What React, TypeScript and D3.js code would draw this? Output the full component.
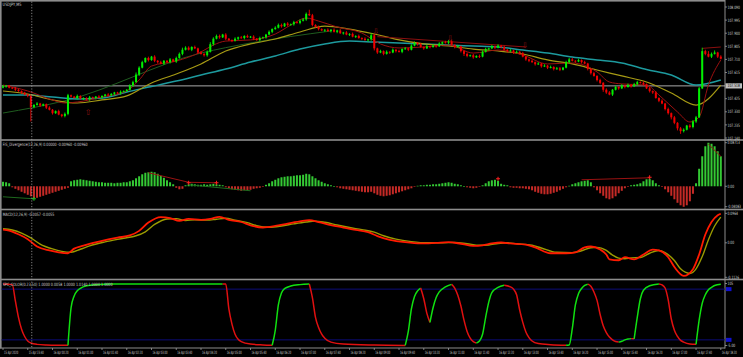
import React from "react";
import * as d3 from "d3";

// ---------- DATA ----------
const OPEN0 = 107.505;
const CLOSES = [
  107.515, 107.52, 107.505, 107.5, 107.49, 107.48, 107.47, 107.455, 107.445, 107.365,
  107.38, 107.39, 107.375, 107.385, 107.36, 107.345, 107.32, 107.335, 107.31, 107.3,
  107.315, 107.45, 107.44, 107.43, 107.445, 107.425, 107.43, 107.42, 107.435, 107.43,
  107.44, 107.435, 107.445, 107.455, 107.45, 107.46, 107.47, 107.465, 107.475, 107.48,
  107.49, 107.52, 107.545, 107.6, 107.65, 107.69, 107.72, 107.705, 107.73, 107.7,
  107.69, 107.68, 107.7, 107.69, 107.71, 107.695, 107.72, 107.75, 107.78, 107.795,
  107.78, 107.8, 107.79, 107.76, 107.75, 107.74, 107.765, 107.82, 107.86, 107.88,
  107.87, 107.89, 107.86, 107.85, 107.845, 107.86, 107.87, 107.865, 107.88, 107.87,
  107.875, 107.86, 107.85, 107.865, 107.87, 107.89, 107.91, 107.93, 107.94, 107.96,
  107.95, 107.97, 107.96, 107.965, 107.98, 107.975, 107.99, 108.0, 108.04, 108.03,
  107.96, 107.945, 107.93, 107.92, 107.925, 107.915, 107.925, 107.91, 107.92, 107.9,
  107.905, 107.89, 107.895, 107.875, 107.88, 107.865, 107.86, 107.85, 107.855, 107.885,
  107.79, 107.76, 107.77, 107.75, 107.765, 107.76, 107.78, 107.77, 107.765, 107.785,
  107.79, 107.78, 107.81, 107.83, 107.82, 107.8, 107.79, 107.805, 107.8, 107.81,
  107.805, 107.825, 107.835, 107.83, 107.84, 107.815, 107.8, 107.805, 107.77, 107.75,
  107.735, 107.74, 107.725, 107.735, 107.73, 107.765, 107.785, 107.79, 107.805, 107.795,
  107.81, 107.8, 107.78, 107.77, 107.775, 107.76, 107.765, 107.755, 107.73, 107.71,
  107.7, 107.69, 107.675, 107.68, 107.66, 107.665, 107.65, 107.655, 107.64, 107.645,
  107.635, 107.65, 107.69, 107.71, 107.7, 107.695, 107.705, 107.69, 107.68, 107.64,
  107.61, 107.59, 107.56, 107.54, 107.49, 107.47, 107.455, 107.49, 107.51, 107.5,
  107.52, 107.51, 107.525, 107.515, 107.53, 107.545, 107.54, 107.53, 107.5, 107.48,
  107.47, 107.43, 107.41, 107.39, 107.35, 107.32, 107.29, 107.25, 107.21, 107.19,
  107.2, 107.23, 107.22, 107.26, 107.29, 107.5, 107.77, 107.75, 107.73, 107.75,
  107.76, 107.73, 107.715,
];
// wick lengths, one base-36 digit per bar, unit 0.005
const WICK_UP =
  "2111211112" + "1211121121" + "2211211121" + "1211211121" + "1223221212" +
  "1211212232" + "2121212322" + "2121121212" + "1212112122" + "2121212226" +
  "2121121212" + "1212121213" + "2121212121" + "2122121212" + "1212221211" +
  "2121222121" + "2121212121" + "1212121212" + "2122212121" + "1212122121" +
  "2121221212" + "1212121212" + "2122225242" + "312";
const WICK_DN =
  "121121212l" + "2121212112" + "2211212121" + "2121212121" + "1121211212" +
  "2121212121" + "1212122121" + "2121212121" + "1212121211" + "2121212121" +
  "2121212121" + "2121212122" + "3212121212" + "1211212121" + "2121212123" +
  "2121211212" + "1212121212" + "2121212121" + "2112121212" + "2122321212" +
  "1212121212" + "2121223234" + "2122211212" + "121";

// moving averages on the price chart: [bar, price]
const TEAL_MA: [number, number][] = [
  [0, 107.452], [8, 107.452], [16, 107.437], [24, 107.423], [32, 107.43], [40, 107.474],
  [48, 107.513], [56, 107.553], [64, 107.597], [72, 107.64], [80, 107.691], [88, 107.735],
  [96, 107.785], [104, 107.822], [112, 107.843], [120, 107.836], [128, 107.829], [136, 107.822],
  [144, 107.814], [152, 107.807], [160, 107.8], [168, 107.778], [176, 107.756], [184, 107.727],
  [192, 107.706], [200, 107.684], [208, 107.637], [216, 107.597], [224, 107.524], [232, 107.561],
];
const OLIVE_MA: [number, number][] = [
  [0, 107.481], [8, 107.459], [16, 107.416], [24, 107.394], [32, 107.416], [40, 107.445],
  [48, 107.539], [56, 107.604], [64, 107.677], [72, 107.771], [80, 107.822], [88, 107.858],
  [96, 107.909], [104, 107.952], [112, 107.93], [120, 107.894], [128, 107.851], [136, 107.822],
  [144, 107.807], [152, 107.785], [160, 107.771], [168, 107.749], [176, 107.706], [184, 107.677],
  [192, 107.633], [200, 107.59], [208, 107.546], [216, 107.466], [224, 107.379], [232, 107.524],
];
const RED_MA: [number, number][] = [
  [0, 107.524], [8, 107.481], [16, 107.416], [20, 107.394], [24, 107.401], [32, 107.437],
  [40, 107.481], [44, 107.561], [48, 107.662], [56, 107.698], [64, 107.764], [68, 107.814],
  [72, 107.843], [80, 107.851], [88, 107.894], [93, 107.959], [98, 108.01], [102, 107.988],
  [108, 107.945], [116, 107.901], [122, 107.822], [128, 107.793], [136, 107.8], [144, 107.814],
  [152, 107.756], [160, 107.778], [168, 107.742], [176, 107.677], [184, 107.684], [192, 107.619],
  [196, 107.546], [200, 107.532], [208, 107.524], [212, 107.452], [218, 107.329], [222, 107.256],
  [225, 107.292], [228, 107.524], [232, 107.706],
];
const GREEN_MA: [number, number][] = [
  [0, 107.321], [20, 107.41], [64, 107.756], [80, 107.829], [106, 107.916],
];
const PRICE_TREND: [number, number][][] = [
  [[121, 107.875], [169, 107.8]],
  [[226, 107.79], [232, 107.8]],
];
const ARROWS: { bar: number; price: number; up: boolean }[] = [
  { bar: 27.5, price: 107.33, up: true },
  { bar: 120.5, price: 107.915, up: false },
  { bar: 144.5, price: 107.862, up: false },
  { bar: 168.7, price: 107.816, up: false },
];
const PRICE_TICKS = [108.09, 107.995, 107.9, 107.805, 107.71, 107.615, 107.425, 107.33, 107.235, 107.14];
const PRICE_LINE = 107.518;

// FIS_Divergence histogram, one value per bar
const FIS = [
  0.009, 0.008, 0.006,
  -0.002, -0.005, -0.008, -0.011, -0.014, -0.017, -0.02,
  -0.024, -0.023,
  -0.021, -0.019, -0.017, -0.015, -0.013, -0.011, -0.009, -0.007, -0.005, -0.003,
  0.01, 0.012, 0.013, 0.014, 0.013, 0.012, 0.011, 0.01,
  0.009, 0.008, 0.008, 0.007, 0.007, 0.007, 0.006, 0.007, 0.007, 0.008, 0.008, 0.01,
  0.012, 0.016, 0.02, 0.024, 0.027, 0.028,
  0.029, 0.028,
  0.025, 0.021, 0.017, 0.012, 0.008, 0.004,
  -0.003, -0.006, -0.005,
  0.002, 0.004, 0.005, 0.004,
  0.003, 0.003, 0.004, 0.003, 0.004, 0.005, 0.004, 0.003, 0.002,
  -0.002, -0.004, -0.006, -0.007, -0.008, -0.009, -0.008, -0.008, -0.007,
  -0.005, -0.004, -0.003, -0.001,
  0.003, 0.006, 0.01, 0.013, 0.016, 0.018,
  0.019, 0.02, 0.02, 0.021, 0.022, 0.022, 0.023, 0.025, 0.024, 0.02,
  0.016, 0.012, 0.009, 0.006, 0.004, 0.002, 0.0, -0.002, -0.004, -0.005,
  -0.006, -0.007, -0.008, -0.009, -0.01, -0.011, -0.012, -0.012, -0.011, -0.014,
  -0.017, -0.019, -0.02, -0.019, -0.018, -0.016, -0.014, -0.012, -0.01, -0.008,
  -0.006, -0.004, -0.001, 0.001, 0.002, 0.002, 0.003, 0.003, 0.004, 0.004,
  0.005, 0.006, 0.007, 0.008, 0.007, 0.005, 0.004, 0.002, 0.0, -0.002,
  -0.003, -0.004, -0.003, -0.001, 0.002, 0.006, 0.01,
  0.012, 0.013, 0.011,
  0.005, 0.003, 0.002,
  -0.002, -0.003, -0.003, -0.004, -0.004, -0.005, -0.006,
  -0.008, -0.011, -0.013, -0.015, -0.016, -0.016,
  -0.015, -0.013, -0.011, -0.008, -0.005, -0.002,
  0.001, 0.004, 0.006, 0.008, 0.01, 0.011, 0.012, 0.008,
  -0.002, -0.008, -0.014, -0.019, -0.024, -0.026, -0.024, -0.02,
  -0.014, -0.009, -0.004, -0.001, 0.002,
  0.003, 0.004, 0.006,
  0.01, 0.014, 0.015, 0.012, 0.006,
  0.002, -0.001,
  -0.006, -0.012, -0.019, -0.026, -0.033, -0.038, -0.041, -0.038,
  -0.03, -0.015,
  0.006,
  0.035, 0.06, 0.08, 0.087, 0.085, 0.08, 0.07, 0.06,
];
const FIS_RED_LINES: [number, number][][] = [
  [[47, 0.027], [60, 0.008]],
  [[60, 0.008], [69, 0.007]],
  [[187, 0.013], [209, 0.017]],
  [[228, 0.084], [232, 0.06]],
];
const FIS_GREEN_LINES: [number, number][][] = [
  [[0, -0.021], [10, -0.025]],
  [[60, 0.003], [80, -0.009]],
];
const FIS_RED_MARKS: [number, number][] = [[60, 0.007], [69, 0.007], [160, 0.015], [209, 0.018]];
const FIS_GREEN_MARKS: [number, number][] = [[10, -0.025]];
const FIS_TICKS = [{ v: 0.08713, t: "0.08713" }, { v: 0, t: "0.00" }, { v: -0.04083, t: "-0.04083" }];

// MACD main and signal: [bar, value]
const MACD_MAIN: [number, number][] = [
  [0, 0.043], [2, 0.04], [5, 0.028], [8, 0.012], [11, -0.012], [15, -0.025], [18, -0.031],
  [21, -0.034], [23, -0.019], [26, -0.009], [31, 0.004], [37, 0.017], [41, 0.024], [44, 0.039],
  [47, 0.066], [51, 0.084], [54, 0.081], [57, 0.072], [60, 0.078], [64, 0.075], [67, 0.078],
  [70, 0.085], [73, 0.075], [77, 0.068], [80, 0.057], [84, 0.05], [88, 0.055], [92, 0.063],
  [96, 0.07], [99, 0.074], [102, 0.068], [106, 0.058], [110, 0.05], [114, 0.042], [118, 0.035],
  [121, 0.022], [125, 0.01], [130, 0.002], [135, -0.002], [140, 0.0], [144, 0.002], [148, -0.003],
  [152, -0.01], [155, -0.008], [158, -0.002], [161, 0.001], [164, -0.002], [169, -0.006],
  [172, -0.015], [177, -0.034], [182, -0.034], [185, -0.031], [188, -0.015], [190, -0.012],
  [193, -0.022], [195, -0.038], [196, -0.054], [199, -0.057], [201, -0.047], [204, -0.054],
  [207, -0.038], [210, -0.022], [212, -0.025], [215, -0.047], [217, -0.079], [220, -0.108],
  [223, -0.086], [225, -0.038], [227, 0.027], [229, 0.068], [231, 0.09], [232, 0.095],
];
const MACD_SIGNAL: [number, number][] = [
  [0, 0.046], [3, 0.042], [6, 0.032], [9, 0.016], [12, -0.004], [16, -0.02], [19, -0.028],
  [22, -0.031], [25, -0.021], [28, -0.01], [33, 0.003], [39, 0.015], [43, 0.023], [46, 0.036],
  [49, 0.06], [53, 0.078], [56, 0.079], [59, 0.073], [62, 0.075], [66, 0.074], [69, 0.077],
  [72, 0.08], [75, 0.074], [79, 0.066], [82, 0.056], [86, 0.051], [90, 0.055], [94, 0.062],
  [98, 0.068], [101, 0.071], [104, 0.067], [108, 0.058], [112, 0.05], [116, 0.043], [120, 0.035],
  [123, 0.023], [127, 0.012], [132, 0.004], [137, 0.0], [142, 0.0], [146, 0.001], [150, -0.003],
  [154, -0.008], [157, -0.007], [160, -0.002], [163, 0.0], [166, -0.003], [171, -0.008],
  [174, -0.017], [179, -0.031], [184, -0.032], [187, -0.026], [190, -0.016], [192, -0.015],
  [195, -0.025], [197, -0.04], [199, -0.05], [201, -0.052], [203, -0.049], [206, -0.048],
  [209, -0.034], [212, -0.025], [214, -0.032], [217, -0.058], [219, -0.085], [222, -0.1],
  [224, -0.085], [226, -0.045], [228, 0.01], [230, 0.055], [232, 0.084],
];
const MACD_TICKS = [{ v: 0.0964, t: "0.0964" }, { v: 0, t: "0.00" }, { v: -0.1126, t: "-0.1126" }];

// SPC_COLOR oscillator: [bar, value]
const SPC: [number, number][] = [
  [0, 104], [3, 103], [4, 74], [5, 45], [6, 24], [7, 11], [8, 3], [9, -0.5], [11, -3], [14, -4], [20, -4.6],
  [21, -4.7], [22, 62], [23, 83], [24, 92], [25, 96.5], [27, 101], [30, 103], [35, 104], [71, 104.2],
  [72, 104], [73, 60], [74, 33], [75, 15], [76, 6], [77, 2], [80, -2.5], [84, -4], [87, -4.6],
  [88, 22], [89, 67], [90, 88], [91, 96], [93, 100.5], [96, 103], [99, 104.1],
  [100, 80], [101, 45], [102, 27], [103, 15], [104, 8], [106, 1], [110, -2.5], [120, -4.2], [130, -4.8],
  [131, 20], [132, 60], [133, 82], [134, 92], [135, 97],
  [136, 78], [137, 52], [138, 36],
  [139, 62], [140, 80], [141, 90], [143, 99], [145, 103.5],
  [146, 97], [147, 84], [148, 65], [149, 40], [150, 20], [151, 8], [152, 2], [153, -0.5],
  [154, 3], [155, 15], [156, 45], [157, 72], [158, 89], [160, 98], [162, 102],
  [164, 99], [165, 95], [166, 85], [167, 58], [168, 36], [169, 19], [170, 9], [171, 3], [173, -1.5], [177, -3.5], [182, -4.5],
  [183, -4], [184, 25], [185, 67], [186, 87], [187, 96], [188, 101.5], [189, 103.8],
  [190, 100], [191, 90], [192, 75], [193, 50], [194, 30], [195, 18], [196, 10], [197, 5], [198, 2], [199, 1],
  [200, 2.5], [201, 5], [202, 6.5], [203, 7.2],
  [204, 6.8],
  [205, 45], [206, 78], [207, 93], [209, 101], [212, 104],
  [213, 102.5], [214, 97], [215, 76], [216, 42], [217, 22], [218, 11], [219, 4], [220, 1], [222, -2.3], [224, -3],
  [225, 40], [226, 70], [227, 85], [228, 94], [229, 98], [230, 101.5], [232, 103.8],
];
const SPC_LEVELS = [95, 5];
const SPC_TICKS = [{ v: 105, t: "105" }, { v: -5, t: "-5.00" }];

// time axis labels every 8 bars (40 minutes)
const TIME_LABELS = [
  "15 Apr 2020", "15 Apr 23:40", "16 Apr 00:20", "16 Apr 01:00", "16 Apr 01:40", "16 Apr 02:20",
  "16 Apr 03:00", "16 Apr 03:40", "16 Apr 04:20", "16 Apr 05:00", "16 Apr 05:40", "16 Apr 06:20",
  "16 Apr 07:00", "16 Apr 07:40", "16 Apr 08:20", "16 Apr 09:00", "16 Apr 09:40", "16 Apr 10:20",
  "16 Apr 11:00", "16 Apr 11:40", "16 Apr 12:20", "16 Apr 13:00", "16 Apr 13:40", "16 Apr 14:20",
  "16 Apr 15:00", "16 Apr 15:40", "16 Apr 16:20", "16 Apr 17:00", "16 Apr 17:40", "16 Apr 18:20",
];
const SEPARATOR_BAR = 9.3;

// ---------- CHART ----------
const W = 743;
const H = 357;
const AXIS_X = 725;
const FG = "#cfcfcf";
const FONT = "DejaVu Sans, sans-serif";
const FS = 4.5;

// approximate DejaVu Sans advance widths (em)
const CW: Record<string, number> = {
  "0": 0.636, "1": 0.636, "2": 0.636, "3": 0.636, "4": 0.636, "5": 0.636, "6": 0.636, "7": 0.636,
  "8": 0.636, "9": 0.636, ".": 0.318, ",": 0.318, " ": 0.318, ":": 0.337, "-": 0.361, "(": 0.39,
  ")": 0.39, "_": 0.5, A: 0.684, p: 0.635, r: 0.411, U: 0.732, S: 0.635, D: 0.77, J: 0.295, P: 0.603,
  Y: 0.611, M: 0.863, F: 0.575, I: 0.295, i: 0.278, v: 0.592, e: 0.615, g: 0.635, n: 0.634, c: 0.55,
  C: 0.698, O: 0.787, L: 0.557, R: 0.695,
};
const natWidth = (t: string) => t.split("").reduce((s, ch) => s + (CW[ch] ?? 0.6), 0) * FS;

function Txt(props: { x: number; y: number; t: string; w?: number; sx?: number; fill?: string; size?: number }) {
  const { x, y, t, w, fill = FG } = props;
  const s = w !== undefined ? w / natWidth(t) : props.sx ?? 1;
  return (
    <text transform={`translate(${x},${y}) scale(${s},1)`} fontSize={FS} fill={fill}>
      {t}
    </text>
  );
}

export default function App() {
  const x = d3.scaleLinear().domain([0, 232]).range([3, 720.8]);
  const yP = d3.scaleLinear().domain([107.14, 108.09]).range([138, 7]);
  const yF = d3.scaleLinear().domain([-0.04083, 0.08713]).range([206.7, 142.7]);
  const yM = d3.scaleLinear().domain([-0.1126, 0.0964]).range([277.3, 213.3]);
  const yS = d3.scaleLinear().domain([-5, 105]).range([345.5, 283.5]);

  const wick = (s: string, i: number) => (parseInt(s[i] ?? "1", 36) || 0) * 0.005;
  const candles = CLOSES.map((c, i) => {
    const o = i === 0 ? OPEN0 : CLOSES[i - 1];
    const h = Math.max(o, c) + wick(WICK_UP, i);
    const l = Math.min(o, c) - wick(WICK_DN, i);
    return { i, o, h, l, c };
  });

  const lineP = (pts: [number, number][], curve: d3.CurveFactory = d3.curveMonotoneX) =>
    d3.line<[number, number]>().x((d) => x(d[0])).y((d) => yP(d[1])).curve(curve)(pts) || "";
  const lineM = (pts: [number, number][]) =>
    d3.line<[number, number]>().x((d) => x(d[0])).y((d) => yM(d[1])).curve(d3.curveMonotoneX)(pts) || "";
  const lineF = (pts: [number, number][]) =>
    d3.line<[number, number]>().x((d) => x(d[0])).y((d) => yF(d[1]))(pts) || "";

  // split SPC into runs by direction (rising = green, falling = red)
  const runs: { up: boolean; pts: [number, number][] }[] = [];
  let prevUp: boolean | null = null;
  for (let k = 1; k < SPC.length; k++) {
    const dv = SPC[k][1] - SPC[k - 1][1];
    const up = dv > 0 ? true : dv < 0 ? false : prevUp ?? false;
    if (!runs.length || runs[runs.length - 1].up !== up) runs.push({ up, pts: [SPC[k - 1]] });
    runs[runs.length - 1].pts.push(SPC[k]);
    prevUp = up;
  }
  const lineS = d3.line<[number, number]>().x((d) => x(d[0])).y((d) => yS(d[1])).curve(d3.curveMonotoneX);

  const f0 = yF(0);
  const sepX = x(SEPARATOR_BAR);
  const AX_SX = 12.4 / natWidth("108.090");

  const axisLabel = (y: number, t: string, key: string) => (
    <g key={key}>
      <line x1={AXIS_X} x2={AXIS_X + 2} y1={y} y2={y} stroke="#9a9a9a" strokeWidth={0.8} />
      <Txt x={727.5} y={y + 1.6} t={t} sx={AX_SX} />
    </g>
  );

  const cross = (cx: number, cy: number, color: string, key: string) => (
    <g key={key} stroke={color} strokeWidth={1}>
      <line x1={cx - 2} x2={cx + 2} y1={cy} y2={cy} />
      <line x1={cx} x2={cx} y1={cy - 2} y2={cy + 2} />
    </g>
  );

  const TIME_SX = 15 / natWidth("16 Apr 05:40");

  return (
    <svg
      width={W}
      height={H}
      viewBox={`0 0 ${W} ${H}`}
      style={{ position: "absolute", left: 0, top: 0, background: "#000", fontFamily: FONT }}
    >
      <rect x={0} y={0} width={W} height={H} fill="#000" />
      <defs>
        <clipPath id="cMain"><rect x={1.7} y={1.7} width={AXIS_X - 1.7} height={137.5} /></clipPath>
        <clipPath id="cFis"><rect x={1.7} y={140.8} width={AXIS_X - 1.7} height={67.8} /></clipPath>
        <clipPath id="cMacd"><rect x={1.7} y={210.3} width={AXIS_X - 1.7} height={68.3} /></clipPath>
        <clipPath id="cSpc"><rect x={1.7} y={280.3} width={AXIS_X - 1.7} height={67.3} /></clipPath>
      </defs>

      {/* frame */}
      <rect x={0} y={0} width={AXIS_X} height={1.6} fill="#8c8c8c" />
      <rect x={0} y={0} width={1.6} height={348.5} fill="#8c8c8c" />
      <rect x={0} y={139.2} width={AXIS_X + 18} height={1.6} fill="#8c8c8c" />
      <rect x={0} y={208.7} width={AXIS_X + 18} height={1.6} fill="#8c8c8c" />
      <rect x={0} y={278.7} width={AXIS_X + 18} height={1.6} fill="#8c8c8c" />
      <line x1={0} x2={AXIS_X} y1={348} y2={348} stroke="#8c8c8c" strokeWidth={1} />
      <line x1={AXIS_X} x2={AXIS_X} y1={0} y2={348.5} stroke="#8c8c8c" strokeWidth={1} />

      {/* ---- main price panel ---- */}
      <g clipPath="url(#cMain)">
        <line x1={0} x2={AXIS_X} y1={yP(PRICE_LINE)} y2={yP(PRICE_LINE)} stroke="#bdbdbd" strokeWidth={0.9} />
        <path d={lineP(GREEN_MA)} fill="none" stroke="#1f5c1f" strokeWidth={1} />
        <path d={lineP(TEAL_MA)} fill="none" stroke="#1d9a9e" strokeWidth={1.5} />
        <path d={lineP(OLIVE_MA)} fill="none" stroke="#a69a14" strokeWidth={1.2} />
        <path d={lineP(RED_MA)} fill="none" stroke="#9a1010" strokeWidth={1} />
        {PRICE_TREND.map((seg, k) => (
          <path key={k} d={lineP(seg, d3.curveLinear)} fill="none" stroke="#8b0f0f" strokeWidth={1} />
        ))}
        {candles.map((d) => {
          const up = d.c >= d.o;
          const col = up ? "#00f000" : "#f00000";
          const cx = x(d.i);
          const top = yP(Math.max(d.o, d.c));
          const bot = yP(Math.min(d.o, d.c));
          return (
            <g key={d.i}>
              <line x1={cx} x2={cx} y1={yP(d.h)} y2={yP(d.l)} stroke={col} strokeWidth={0.9} />
              <rect x={cx - 1} y={top} width={2} height={Math.max(0.9, bot - top)} fill={col} />
            </g>
          );
        })}
        {ARROWS.map((a, k) => (
          <text key={k} x={x(a.bar)} y={yP(a.price) + 3} fontSize={8} fill="#8b1010" textAnchor="middle">
            {a.up ? "⇧" : "⇩"}
          </text>
        ))}
      </g>
      <Txt x={2.6} y={5.8} t="USDJPY,M5" w={19} />
      {PRICE_TICKS.map((p) => axisLabel(yP(p), p.toFixed(3), "p" + p))}
      <rect x={725.5} y={yP(PRICE_LINE) - 2.6} width={16.5} height={5.2} fill="#bfbfbf" />
      <Txt x={727.5} y={yP(PRICE_LINE) + 1.6} t={PRICE_LINE.toFixed(3)} sx={AX_SX} fill="#000" />

      {/* ---- FIS divergence ---- */}
      <g clipPath="url(#cFis)">
        {FIS.map((v, i) => {
          const yy = yF(v);
          return (
            <rect
              key={i}
              x={x(i) - 1}
              y={Math.min(yy, f0)}
              width={2}
              height={Math.max(0.6, Math.abs(yy - f0))}
              fill={v >= 0 ? "#34c934" : "#c52a26"}
            />
          );
        })}
        {FIS_RED_LINES.map((s, k) => (
          <path key={"r" + k} d={lineF(s)} fill="none" stroke="#9a1212" strokeWidth={1} />
        ))}
        {FIS_GREEN_LINES.map((s, k) => (
          <path key={"g" + k} d={lineF(s)} fill="none" stroke="#1e6a1e" strokeWidth={1} />
        ))}
        {FIS_RED_MARKS.map((m, k) => cross(x(m[0]), yF(m[1]), "#ff2020", "rm" + k))}
        {FIS_GREEN_MARKS.map((m, k) => cross(x(m[0]), yF(m[1]), "#20c020", "gm" + k))}
      </g>
      <Txt x={2.7} y={145.6} t="FIS_Divergence(12,26,9) 0.00000 -0.00960 -0.00960" w={85} />
      {FIS_TICKS.map((t) => axisLabel(yF(t.v), t.t, "f" + t.t))}

      {/* ---- MACD ---- */}
      <g clipPath="url(#cMacd)">
        <path d={lineM(MACD_SIGNAL)} fill="none" stroke="#9a9a00" strokeWidth={1.4} />
        <path d={lineM(MACD_MAIN)} fill="none" stroke="#ff1a00" strokeWidth={1.8} />
      </g>
      <Txt x={2.7} y={215.6} t="MACD(12,26,9) -0.0057 -0.0055" w={52} />
      {MACD_TICKS.map((t) => axisLabel(yM(t.v), t.t, "m" + t.t))}

      {/* ---- SPC ---- */}
      <g clipPath="url(#cSpc)">
        {SPC_LEVELS.map((lv) => (
          <line key={lv} x1={0} x2={AXIS_X} y1={yS(lv)} y2={yS(lv)} stroke="#0c0c78" strokeWidth={1} />
        ))}
        {runs.map((r, k) => (
          <path key={k} d={lineS(r.pts) || ""} fill="none" stroke={r.up ? "#10e010" : "#e01010"} strokeWidth={1.5} />
        ))}
      </g>
      <Txt x={2.7} y={285.6} t="SPC_COLOR(0.23,50) 1.0000 0.0058 1.0000 1.0140 1.0000 1.0000" w={110} />
      {SPC_LEVELS.map((lv) => (
        <rect key={"b" + lv} x={726} y={yS(lv) - 2} width={5.5} height={4} fill="#1010d0" />
      ))}
      {SPC_TICKS.map((t) => axisLabel(yS(t.v), t.t, "s" + t.t))}

      {/* period separator */}
      <line x1={sepX} x2={sepX} y1={1.6} y2={348} stroke="#a0a0a0" strokeWidth={0.8} strokeDasharray="1.2,1.6" />

      {/* ---- time axis ---- */}
      {TIME_LABELS.map((t, k) => {
        const xx = x(k * 8);
        return (
          <g key={t}>
            <line x1={xx} x2={xx} y1={348} y2={350} stroke="#9a9a9a" strokeWidth={0.8} />
            <Txt x={xx + 1} y={354} t={t} sx={TIME_SX} />
          </g>
        );
      })}
    </svg>
  );
}
